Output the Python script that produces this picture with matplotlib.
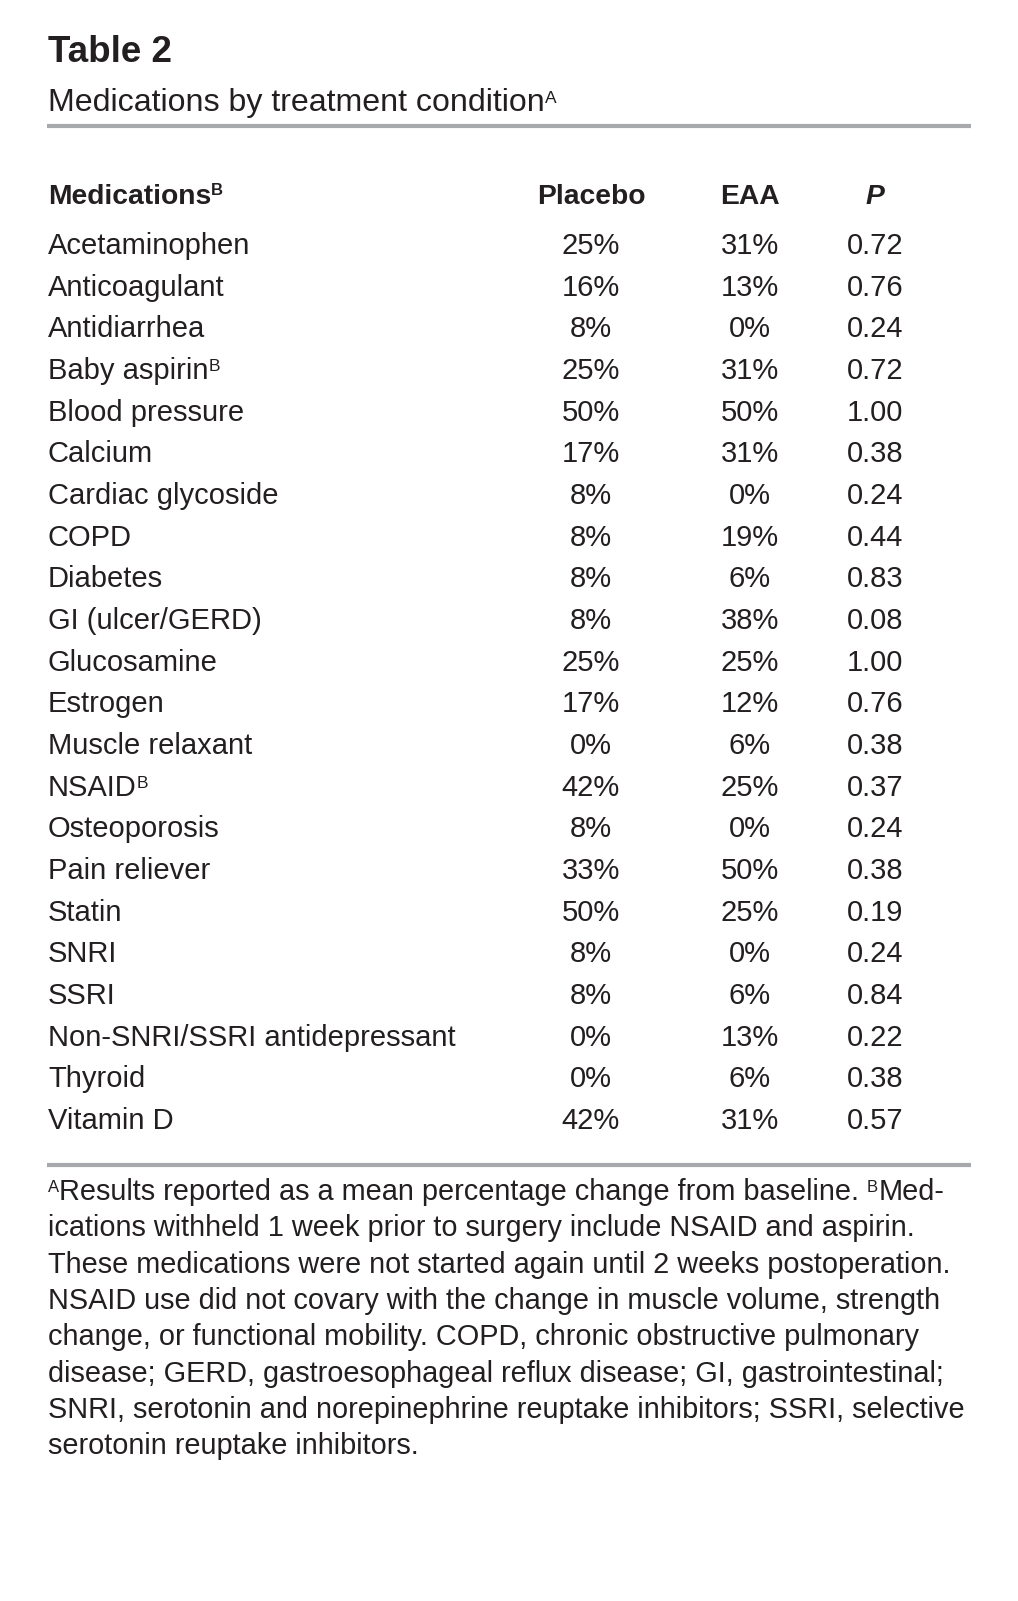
import matplotlib.pyplot as plt

# table data
medications = ["Acetaminophen", "Anticoagulant", "Antidiarrhea", "Baby aspirin",
               "Blood pressure", "Calcium", "Cardiac glycoside", "COPD", "Diabetes",
               "GI (ulcer/GERD)", "Glucosamine", "Estrogen", "Muscle relaxant", "NSAID",
               "Osteoporosis", "Pain reliever", "Statin", "SNRI", "SSRI",
               "Non-SNRI/SSRI antidepressant", "Thyroid", "Vitamin D"]
placebo = [25, 16, 8, 25, 50, 17, 8, 8, 8, 8, 25, 17, 0, 42, 8, 33, 50, 8, 8, 0, 0, 42]
eaa = [31, 13, 0, 31, 50, 31, 0, 19, 6, 38, 25, 12, 6, 25, 0, 50, 25, 0, 6, 13, 6, 31]
p_values = [0.72, 0.76, 0.24, 0.72, 1.00, 0.38, 0.24, 0.44, 0.83, 0.08, 1.00, 0.76,
            0.38, 0.37, 0.24, 0.38, 0.19, 0.24, 0.84, 0.22, 0.38, 0.57]
marked_b = ["Baby aspirin", "NSAID"]

footnote_lines = [
    "ications withheld 1 week prior to surgery include NSAID and aspirin.",
    "These medications were not started again until 2 weeks postoperation.",
    "NSAID use did not covary with the change in muscle volume, strength",
    "change, or functional mobility. COPD, chronic obstructive pulmonary",
    "disease; GERD, gastroesophageal reflux disease; GI, gastrointestinal;",
    "SNRI, serotonin and norepinephrine reuptake inhibitors; SSRI, selective",
    "serotonin reuptake inhibitors.",
]

INK = "#231f20"
RULE = "#a7a9ac"
FONT = "Liberation Sans"

W, H = 1018, 1601
fig = plt.figure(figsize=(W / 100, H / 100), dpi=100)
ax = fig.add_axes([0, 0, 1, 1])
ax.set_xlim(0, W)
ax.set_ylim(H, 0)
ax.axis("off")


def runs(x, y, parts):
    """Draw text pieces one after another on a baseline; (text, size, weight, raise_px)."""
    prev = None
    for txt, size, weight, rise in parts:
        kw = dict(fontsize=size, fontweight=weight, family=FONT, color=INK,
                  va="baseline", ha="left")
        if prev is None:
            prev = ax.text(x, y - rise, txt, **kw)
        else:
            prev = ax.annotate(txt, xy=(1, y - rise), xycoords=(prev, "data"),
                               annotation_clip=False, **kw)
    return prev


left = 48
col_placebo, col_eaa, col_p = 591, 750, 875

# title block
ax.text(left, 62, "Table 2", fontsize=26.5, fontweight="bold", family=FONT,
        color=INK, va="baseline")
runs(left, 111, [("Medications by treatment condition", 23.1, "normal", 0),
                 ("A", 12.5, "normal", 8)])
ax.plot([47, 971], [126, 126], color=RULE, lw=3, solid_capstyle="butt")

# header
head_y = 204
runs(left, head_y, [("Medications", 20.3, "bold", 0), ("B", 12, "bold", 9)])
for cx, lab in [(col_placebo, "Placebo"), (col_eaa, "EAA")]:
    ax.text(cx, head_y, lab, fontsize=20.3, fontweight="bold", family=FONT,
            color=INK, ha="center", va="baseline")
ax.text(col_p, head_y, "P", fontsize=20.3, fontweight="bold", style="italic",
        family=FONT, color=INK, ha="center", va="baseline")

# rows
row0, step = 254, 41.67
for i, name in enumerate(medications):
    y = row0 + i * step
    parts = [(name, 21, "normal", 0)]
    if name in marked_b:
        parts.append(("B", 12.5, "normal", 8))
    runs(left, y, parts)
    for cx, txt in [(col_placebo, f"{placebo[i]}%"), (col_eaa, f"{eaa[i]}%"),
                    (col_p, f"{p_values[i]:.2f}")]:
        ax.text(cx, y, txt, fontsize=21, family=FONT, color=INK,
                ha="center", va="baseline")

ax.plot([47, 971], [1164.5, 1164.5], color=RULE, lw=3, solid_capstyle="butt")

# footnotes
fn_y, fn_step, fn_size = 1200, 36.3, 20.8
runs(left, fn_y, [("A", 12, "normal", 8),
                  ("Results reported as a mean percentage change from baseline. ", fn_size, "normal", 0),
                  ("B", 12, "normal", 8),
                  ("Med-", fn_size, "normal", 0)])
for k, line in enumerate(footnote_lines):
    ax.text(left, fn_y + (k + 1) * fn_step, line, fontsize=fn_size, family=FONT,
            color=INK, va="baseline")

fig.savefig("out.png", dpi=100, facecolor="white")
